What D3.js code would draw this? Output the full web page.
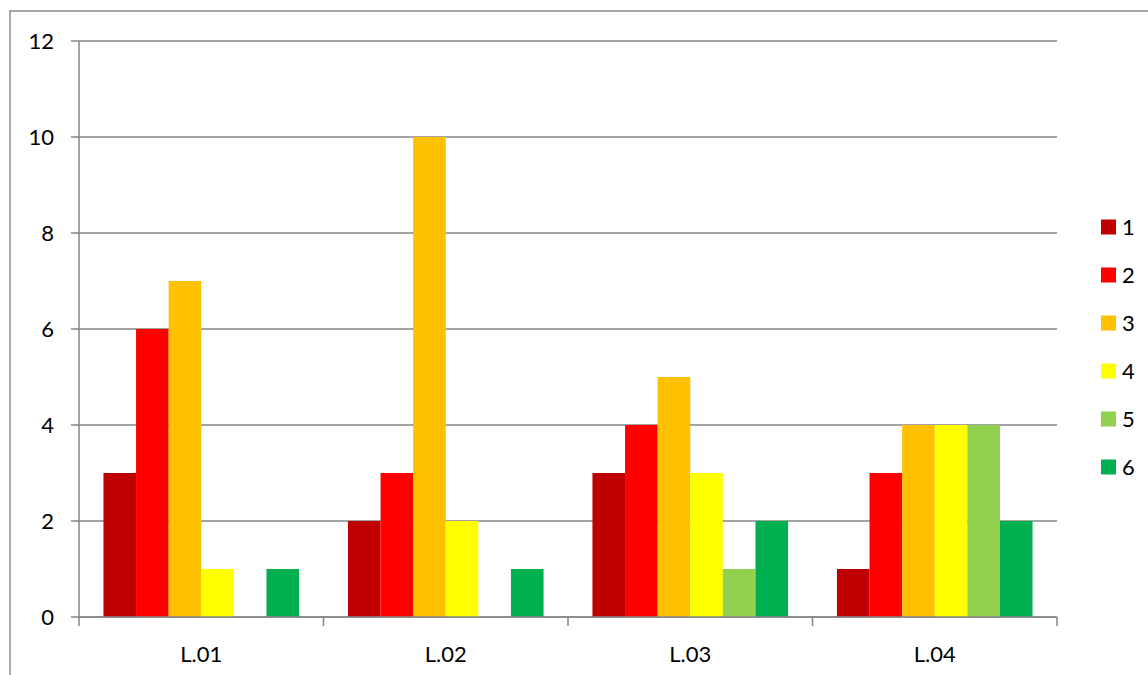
<!DOCTYPE html>
<html lang="en">
<head>
    <meta charset="UTF-8">
    <script src="https://d3js.org/d3.v7.min.js" charset="utf-8"></script>
    <title>Column chart</title>
    <style>
        body { margin: 0; background: white; }
        svg { display: block; font-family: Lato, "Open Sans", sans-serif; }
    </style>
</head>
<body>
    <div class="chart"></div>
    <script>
        // categories and series
        const categories = ["L.01", "L.02", "L.03", "L.04"];
        const seriesNames = ["1", "2", "3", "4", "5", "6"];
        const seriesColors = ["#C00000", "#FF0000", "#FFC000", "#FFFF00", "#92D050", "#00B050"];
        // values[category][series]
        const values = [
            [3, 6, 7, 1, 0, 1],
            [2, 3, 10, 2, 0, 1],
            [3, 4, 5, 3, 1, 2],
            [1, 3, 4, 4, 4, 2]
        ];
        const yTicks = [0, 2, 4, 6, 8, 10, 12];

        const width = 1148, height = 675;
        const plot = { left: 79, right: 1057, top: 41, bottom: 617 };
        const fontSize = 22;

        const svg = d3.select(".chart").append("svg")
            .attr("width", width)
            .attr("height", height);

        // chart area border
        svg.append("rect")
            .attr("x", 10).attr("y", 11)
            .attr("width", width + 20).attr("height", height + 20)
            .attr("fill", "none")
            .attr("stroke", "#8c8c8c")
            .attr("stroke-width", 1.5);

        // Scales
        const x0 = d3.scaleBand()
            .domain(categories)
            .range([plot.left, plot.right])
            .paddingInner(0).paddingOuter(0);

        // gap width 150% -> bar group takes 6/(6+1.5) of the band
        const groupW = x0.bandwidth() * 6 / 7.5;
        const x1 = d3.scaleBand()
            .domain(seriesNames)
            .range([0, groupW]);

        const y = d3.scaleLinear()
            .domain([0, 12])
            .range([plot.bottom, plot.top]);

        // gridlines
        svg.append("g")
            .selectAll("line")
            .data(yTicks)
            .join("line")
            .attr("x1", plot.left - 8)
            .attr("x2", plot.right)
            .attr("y1", d => y(d))
            .attr("y2", d => y(d))
            .attr("stroke", "#868686")
            .attr("stroke-width", 1.5);

        // y labels
        svg.append("g")
            .selectAll("text")
            .data(yTicks)
            .join("text")
            .attr("x", 54)
            .attr("y", d => y(d))
            .attr("dy", "0.35em")
            .attr("text-anchor", "end")
            .attr("font-size", fontSize)
            .attr("fill", "#000")
            .text(d => d);

        // bars
        const groups = svg.append("g")
            .selectAll("g")
            .data(values)
            .join("g")
            .attr("transform", (d, i) => `translate(${x0(categories[i]) + (x0.bandwidth() - groupW) / 2},0)`);

        groups.selectAll("rect")
            .data(d => d.map((v, j) => ({ v, j })))
            .join("rect")
            .attr("x", d => x1(seriesNames[d.j]))
            .attr("width", x1.bandwidth())
            .attr("y", d => y(d.v))
            .attr("height", d => y(0) - y(d.v))
            .attr("fill", d => seriesColors[d.j]);

        // y axis line
        svg.append("line")
            .attr("x1", plot.left).attr("x2", plot.left)
            .attr("y1", plot.top).attr("y2", plot.bottom)
            .attr("stroke", "#868686")
            .attr("stroke-width", 1.5);

        // x axis line + ticks
        svg.append("line")
            .attr("x1", plot.left).attr("x2", plot.right)
            .attr("y1", plot.bottom).attr("y2", plot.bottom)
            .attr("stroke", "#868686")
            .attr("stroke-width", 1.5);

        const xTickPos = categories.map(c => x0(c)).concat([plot.right]);
        svg.append("g")
            .selectAll("line")
            .data(xTickPos)
            .join("line")
            .attr("x1", d => d).attr("x2", d => d)
            .attr("y1", plot.bottom).attr("y2", plot.bottom + 9)
            .attr("stroke", "#868686")
            .attr("stroke-width", 1.5);

        svg.append("g")
            .selectAll("text")
            .data(categories)
            .join("text")
            .attr("x", d => x0(d) + x0.bandwidth() / 2)
            .attr("y", 654)
            .attr("dy", "0.35em")
            .attr("text-anchor", "middle")
            .attr("font-size", fontSize)
            .attr("fill", "#000")
            .text(d => d);

        // legend
        const legend = svg.append("g")
            .selectAll("g")
            .data(seriesNames)
            .join("g")
            .attr("transform", (d, i) => `translate(1101,${227 + i * 48})`);

        legend.append("rect")
            .attr("x", 0).attr("y", -7.5)
            .attr("width", 15).attr("height", 15)
            .attr("fill", (d, i) => seriesColors[i]);

        legend.append("text")
            .attr("x", 21)
            .attr("y", 0)
            .attr("dy", "0.35em")
            .attr("font-size", fontSize)
            .attr("fill", "#000")
            .text(d => d);
    </script>
</body>
</html>
